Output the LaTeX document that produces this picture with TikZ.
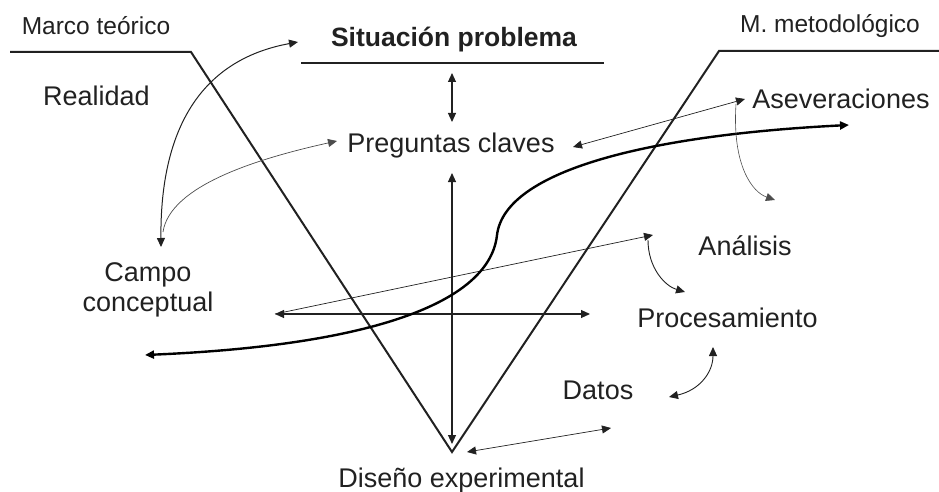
\documentclass[tikz,border=0pt]{standalone}
\usepackage{fontspec}
\setmainfont{Liberation Sans}
\usetikzlibrary{arrows.meta}
\definecolor{ink}{gray}{0.13}
\definecolor{thinink}{gray}{0.3}
\tikzset{
  lbl/.style={anchor=base, inner sep=0pt, text=ink, font=\fontsize{27}{30}\selectfont},
  smalllbl/.style={anchor=base, inner sep=0pt, text=ink, font=\fontsize{24.5}{28}\selectfont},
  vline/.style={draw=ink, line width=2pt, line join=miter},
  tip/.style={-{Triangle[length=9pt,width=8pt]}},
  tips/.style={{Triangle[length=9pt,width=8pt]}-{Triangle[length=9pt,width=8pt]}},
  conn/.style={draw=ink, line width=1.1pt},
  thinconn/.style={draw=thinink, line width=0.7pt},
  scurve/.style={draw=black, line width=2.4pt},
}
\begin{document}
\begin{tikzpicture}[x=1pt,y=-1pt]
\useasboundingbox (0,0) rectangle (939,492);
% labels
\node[smalllbl] (marco) at (96,35) {Marco teórico};
\node[lbl, font=\fontsize{26.5}{30}\selectfont\bfseries] (situacion) at (454,47) {Situación problema};
\node[smalllbl] (metodo) at (830,33) {M. metodológico};
\node[lbl] (realidad) at (96.5,106) {Realidad};
\node[lbl] (preguntas) at (451,152) {Preguntas claves};
\node[lbl] (aseveraciones) at (841,109) {Aseveraciones};
\node[lbl, anchor=center, align=center] (campo) at (148,290) {Campo\\conceptual};
\node[lbl] (analisis) at (745,255) {Análisis};
\node[lbl] (procesamiento) at (727.5,327) {Procesamiento};
\node[lbl] (datos) at (598,399) {Datos};
\node[lbl] (diseno) at (461.5,487) {Diseño experimental};
% coordinates
\coordinate (vl0) at (10,52);
\coordinate (vl1) at (191,52);
\coordinate (vtx) at (452,452);
\coordinate (vr1) at (719,51);
\coordinate (vr0) at (939,51);
\coordinate (ul) at (301,63);
\coordinate (ur) at (604,63);
\coordinate (sp1) at (452,73);
\coordinate (sp2) at (452,122);
\coordinate (vt) at (452,173);
\coordinate (vb) at (452,444);
\coordinate (hl) at (275,314);
\coordinate (hr) at (590,314);
\coordinate (an1) at (653,235);
\coordinate (sl) at (145,355);
\coordinate (sm) at (497,235);
\coordinate (sr) at (849,125);
\coordinate (sit) at (298,42);
\coordinate (cdown) at (161,247);
\coordinate (cstart) at (163,232);
\coordinate (pq) at (337,141);
\coordinate (pc) at (573,147);
\coordinate (as) at (745,99);
\coordinate (as1) at (736,104);
\coordinate (as2) at (775,200);
\coordinate (an2) at (648,240);
\coordinate (pr1) at (685,292);
\coordinate (pr2) at (713,347);
\coordinate (da) at (669,397);
\coordinate (de) at (467,452);
\coordinate (da2) at (611,428);
% V shape
\draw[vline] (vl0) -- (vl1) -- (vtx) -- (vr1) -- (vr0);
\draw[draw=ink, line width=1.6pt] (ul) -- (ur);
% axes
\draw[conn, tips] (sp1) -- (sp2);
\draw[conn, tips] (vt) -- (vb);
\draw[conn, tips] (hl) -- (hr);
\draw[thinconn, draw=ink, tip] (hl) -- (an1);
% S curve
\draw[scurve, tips] (sl) .. controls (380,345) and (490,300) .. (sm)
  .. controls (505,170) and (650,135) .. (sr);
% left side
\draw[conn, line width=1pt, tips] (sit) .. controls (200,60) and (160,130) .. (cdown);
\draw[thinconn, tip] (cstart) .. controls (170,185) and (260,158) .. (pq);
% right side
\draw[thinconn, draw=ink, tips] (pc) -- (as);
\draw[thinconn, line width=0.6pt, tip] (as1) .. controls (732,165) and (752,192) .. (as2);
\draw[thinconn, draw=ink, line width=0.9pt, tip] (an2) .. controls (648,268) and (665,286) .. (pr1);
\draw[thinconn, draw=ink, line width=0.9pt, tips] (da) .. controls (700,390) and (713,372) .. (pr2);
\draw[thinconn, draw=ink, tips] (de) -- (da2);
\end{tikzpicture}
\end{document}
